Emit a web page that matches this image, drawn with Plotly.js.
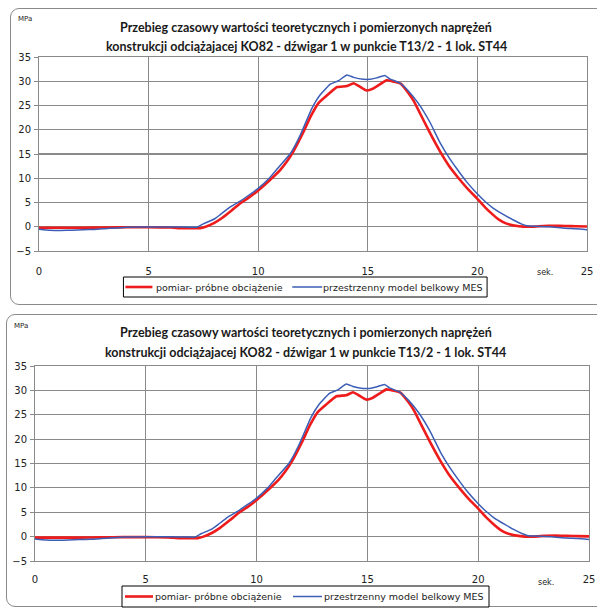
<!DOCTYPE html>
<html>
<head>
<meta charset="utf-8">
<script src="https://cdn.plot.ly/plotly-3.0.1.min.js"></script>
<style>
  html, body { margin: 0; padding: 0; background: #fff; }
  body { width: 597px; height: 609px; position: relative; overflow: hidden; }
  .frame { position: absolute; border: 1.3px solid #8a8a8a; border-radius: 9px; box-sizing: border-box; }
  .chart { position: absolute; left: 0; width: 597px; }
</style>
</head>
<body>
<div class="frame" style="left:10px; top:8px; width:600px; height:297px;"></div>
<div class="frame" style="left:6px; top:314px; width:604px; height:293px;"></div>
<div id="c1" class="chart" style="top:0px; height:305px;"></div>
<div id="c2" class="chart" style="top:305px; height:304px;"></div>
<script>
// ---- data ----
const chartTitleLine1 = "Przebieg czasowy wartości teoretycznych i pomierzonych naprężeń";
const chartTitleLine2 = "konstrukcji odciążajacej KO82 - dźwigar 1 w punkcie T13/2 - 1 lok. ST44";
const seriesNames = ["pomiar- próbne obciążenie", "przestrzenny model belkowy MES"];
const yUnit = "MPa";
const xUnit = "sek.";
const xTickValues = [0, 5, 10, 15, 20, 25];
const yTickValues = [-5, 0, 5, 10, 15, 20, 25, 30, 35];

const timeMeasured = [0, 1, 2, 3, 4, 5, 6, 6.5, 7, 7.35, 7.6, 8, 8.35, 8.8, 9.2, 9.6, 10, 10.5, 11, 11.3, 11.6,
  12.07, 12.4, 12.75, 13.14, 13.6, 14.05, 14.35, 14.6, 14.95, 15.25, 15.6, 15.86, 16.2, 16.5, 16.85, 17.1, 17.38,
  17.83, 18.3, 18.7, 19.2, 19.6, 19.97, 20.35, 20.73, 21.0, 21.3, 21.9, 22.5, 23, 23.5, 24, 24.5, 25];
const stressMeasured = [-0.2, -0.2, -0.2, -0.15, -0.1, -0.1, -0.15, -0.3, -0.3, -0.3, 0.0, 0.8, 1.8, 3.4, 4.9, 6.1, 7.5, 9.5, 11.7, 13.4, 15.5,
  19.6, 22.8, 25.5, 27.1, 28.8, 29.0, 29.6, 29.0, 28.1, 28.5, 29.5, 30.2, 29.9, 29.5, 27.6, 25.9, 23.4,
  19.4, 15.5, 12.6, 9.7, 7.6, 5.9, 4.0, 2.4, 1.4, 0.7, 0.1, 0.0, 0.15, 0.2, 0.15, 0.1, 0.05];

const timeModel = [0, 0.5, 1, 1.5, 2, 2.5, 3, 3.5, 4, 5, 6, 7, 7.2, 7.5, 8.0, 8.27, 8.7, 9.18, 9.6, 10, 10.5, 10.86,
  11.47, 11.92, 12.45, 12.83, 13.29, 13.66, 14.05, 14.35, 14.8, 15.1, 15.4, 15.78, 16.0, 16.47, 16.85, 17.3, 17.83,
  18.3, 18.7, 19.07, 19.5, 19.97, 20.35, 20.73, 21.2, 21.64, 22.0, 22.25, 22.7, 23.3, 24, 24.5, 25];
const stressModel = [-0.5, -0.7, -0.75, -0.7, -0.6, -0.55, -0.4, -0.25, -0.1, -0.05, -0.05, -0.1, -0.1, 0.6, 1.6, 2.5, 4.0, 5.3, 6.6, 7.9, 10.0, 11.9,
  15.1, 18.9, 24.4, 27.2, 29.4, 30.1, 31.3, 30.8, 30.4, 30.4, 30.7, 31.2, 30.5, 29.6, 28.0, 25.5, 21.6,
  17.3, 14.3, 11.9, 9.3, 6.9, 5.2, 3.8, 2.5, 1.4, 0.6, 0.2, 0.1, 0.0, -0.3, -0.4, -0.6];

const seriesColors = ['#ee1c1c', '#3b5db5'];
const seriesWidths = [2.6, 1.5];

// ---- drawing ----
function makeChart(id, g) {
  const W = 597, H = g.H;
  const pw = W - g.l - g.r, ph = H - g.t - g.b;
  const px = x => (x - g.l) / pw;
  const py = y => (H - g.b - (y - g.top)) / ph;
  const axisColor = '#8a8a8a';
  const traces = [
    { x: timeMeasured, y: stressMeasured, name: seriesNames[0], mode: 'lines', showlegend: false,
      line: { color: seriesColors[0], width: seriesWidths[0], shape: 'spline', smoothing: 0.4 } },
    { x: timeModel, y: stressModel, name: seriesNames[1], mode: 'lines', showlegend: false,
      line: { color: seriesColors[1], width: seriesWidths[1], shape: 'spline', smoothing: 0.4 } }
  ];
  const lg = g.leg;
  const midY = (lg.y0 + lg.y1) / 2;
  const shapes = [
    { type: 'rect', xref: 'paper', yref: 'paper', x0: px(lg.x0), x1: px(lg.x1), y0: py(lg.y0), y1: py(lg.y1),
      line: { color: '#000', width: 1 }, fillcolor: '#fff', layer: 'above' },
    { type: 'line', xref: 'paper', yref: 'paper', x0: px(lg.l1[0]), x1: px(lg.l1[1]), y0: py(midY), y1: py(midY),
      line: { color: seriesColors[0], width: seriesWidths[0] }, layer: 'above' },
    { type: 'line', xref: 'paper', yref: 'paper', x0: px(lg.l2[0]), x1: px(lg.l2[1]), y0: py(midY), y1: py(midY),
      line: { color: seriesColors[1], width: seriesWidths[1] }, layer: 'above' }
  ];
  const legFont = { family: 'DejaVu Sans, Verdana, sans-serif', size: 9.5, color: '#222' };
  const layout = {
    width: W, height: H,
    margin: { l: g.l, r: g.r, t: g.t, b: g.b, pad: 0, autoexpand: false },
    paper_bgcolor: 'rgba(0,0,0,0)', plot_bgcolor: 'rgba(0,0,0,0)',
    font: { family: 'DejaVu Sans, Verdana, sans-serif', size: 10, color: '#222' },
    showlegend: false,
    xaxis: { range: [0, 25], tickvals: xTickValues, showgrid: true, gridcolor: axisColor, gridwidth: 1.1,
      zeroline: false, showline: true, mirror: true, linecolor: axisColor, linewidth: 1,
      ticks: '', ticklabelstandoff: g.xs, tickfont: { size: 10 }, automargin: false },
    yaxis: { range: [-5, 35], tickvals: yTickValues, showgrid: true, gridcolor: axisColor, gridwidth: 1.1,
      zeroline: false, showline: true, mirror: true, linecolor: axisColor, linewidth: 1,
      ticks: 'outside', ticklen: 4, tickcolor: axisColor, ticklabelstandoff: 1, tickfont: { size: 10 }, automargin: false },
    shapes: shapes,
    annotations: [
      { xref: 'paper', yref: 'paper', x: px(g.tx), y: py(g.ty1), text: '<b>' + chartTitleLine1 + '</b>',
        showarrow: false, xanchor: 'center', yanchor: 'middle',
        font: { family: 'Lato, sans-serif', size: 12.5, color: '#1a1a1a' } },
      { xref: 'paper', yref: 'paper', x: px(g.tx), y: py(g.ty2), text: '<b>' + chartTitleLine2 + '</b>',
        showarrow: false, xanchor: 'center', yanchor: 'middle',
        font: { family: 'Lato, sans-serif', size: 12.5, color: '#1a1a1a' } },
      { xref: 'paper', yref: 'paper', x: px(g.mx), y: py(g.my), text: yUnit,
        showarrow: false, xanchor: 'center', yanchor: 'middle',
        font: { family: 'DejaVu Sans, sans-serif', size: 7, color: '#222' } },
      { xref: 'paper', yref: 'paper', x: px(g.sx), y: py(g.sy), text: xUnit,
        showarrow: false, xanchor: 'center', yanchor: 'middle',
        font: { family: 'DejaVu Sans, sans-serif', size: 8, color: '#222' } },
      { xref: 'paper', yref: 'paper', x: px(lg.t1), y: py(midY), text: seriesNames[0],
        showarrow: false, xanchor: 'left', yanchor: 'middle', xshift: -2, font: legFont },
      { xref: 'paper', yref: 'paper', x: px(lg.t2), y: py(midY), text: seriesNames[1],
        showarrow: false, xanchor: 'left', yanchor: 'middle', xshift: -2, font: legFont }
    ]
  };
  Plotly.newPlot(id, traces, layout, { displayModeBar: false, staticPlot: true });
}

makeChart('c1', { top: 0, H: 305, l: 38.5, r: 10, t: 57, b: 54, xs: 11,
  tx: 306, ty1: 27, ty2: 46, mx: 24, my: 19, sx: 545, sy: 272,
  leg: { x0: 123, x1: 487, y0: 277, y1: 297, l1: [125, 152], t1: 156, l2: [292, 322], t2: 323 } });
makeChart('c2', { top: 305, H: 304, l: 35, r: 8, t: 61, b: 48, xs: 9,
  tx: 305.5, ty1: 333, ty2: 352, mx: 21, my: 326, sx: 546, sy: 582,
  leg: { x0: 122, x1: 489, y0: 586, y1: 607, l1: [125, 153], t1: 155, l2: [293, 322], t2: 324 } });
</script>
</body>
</html>
